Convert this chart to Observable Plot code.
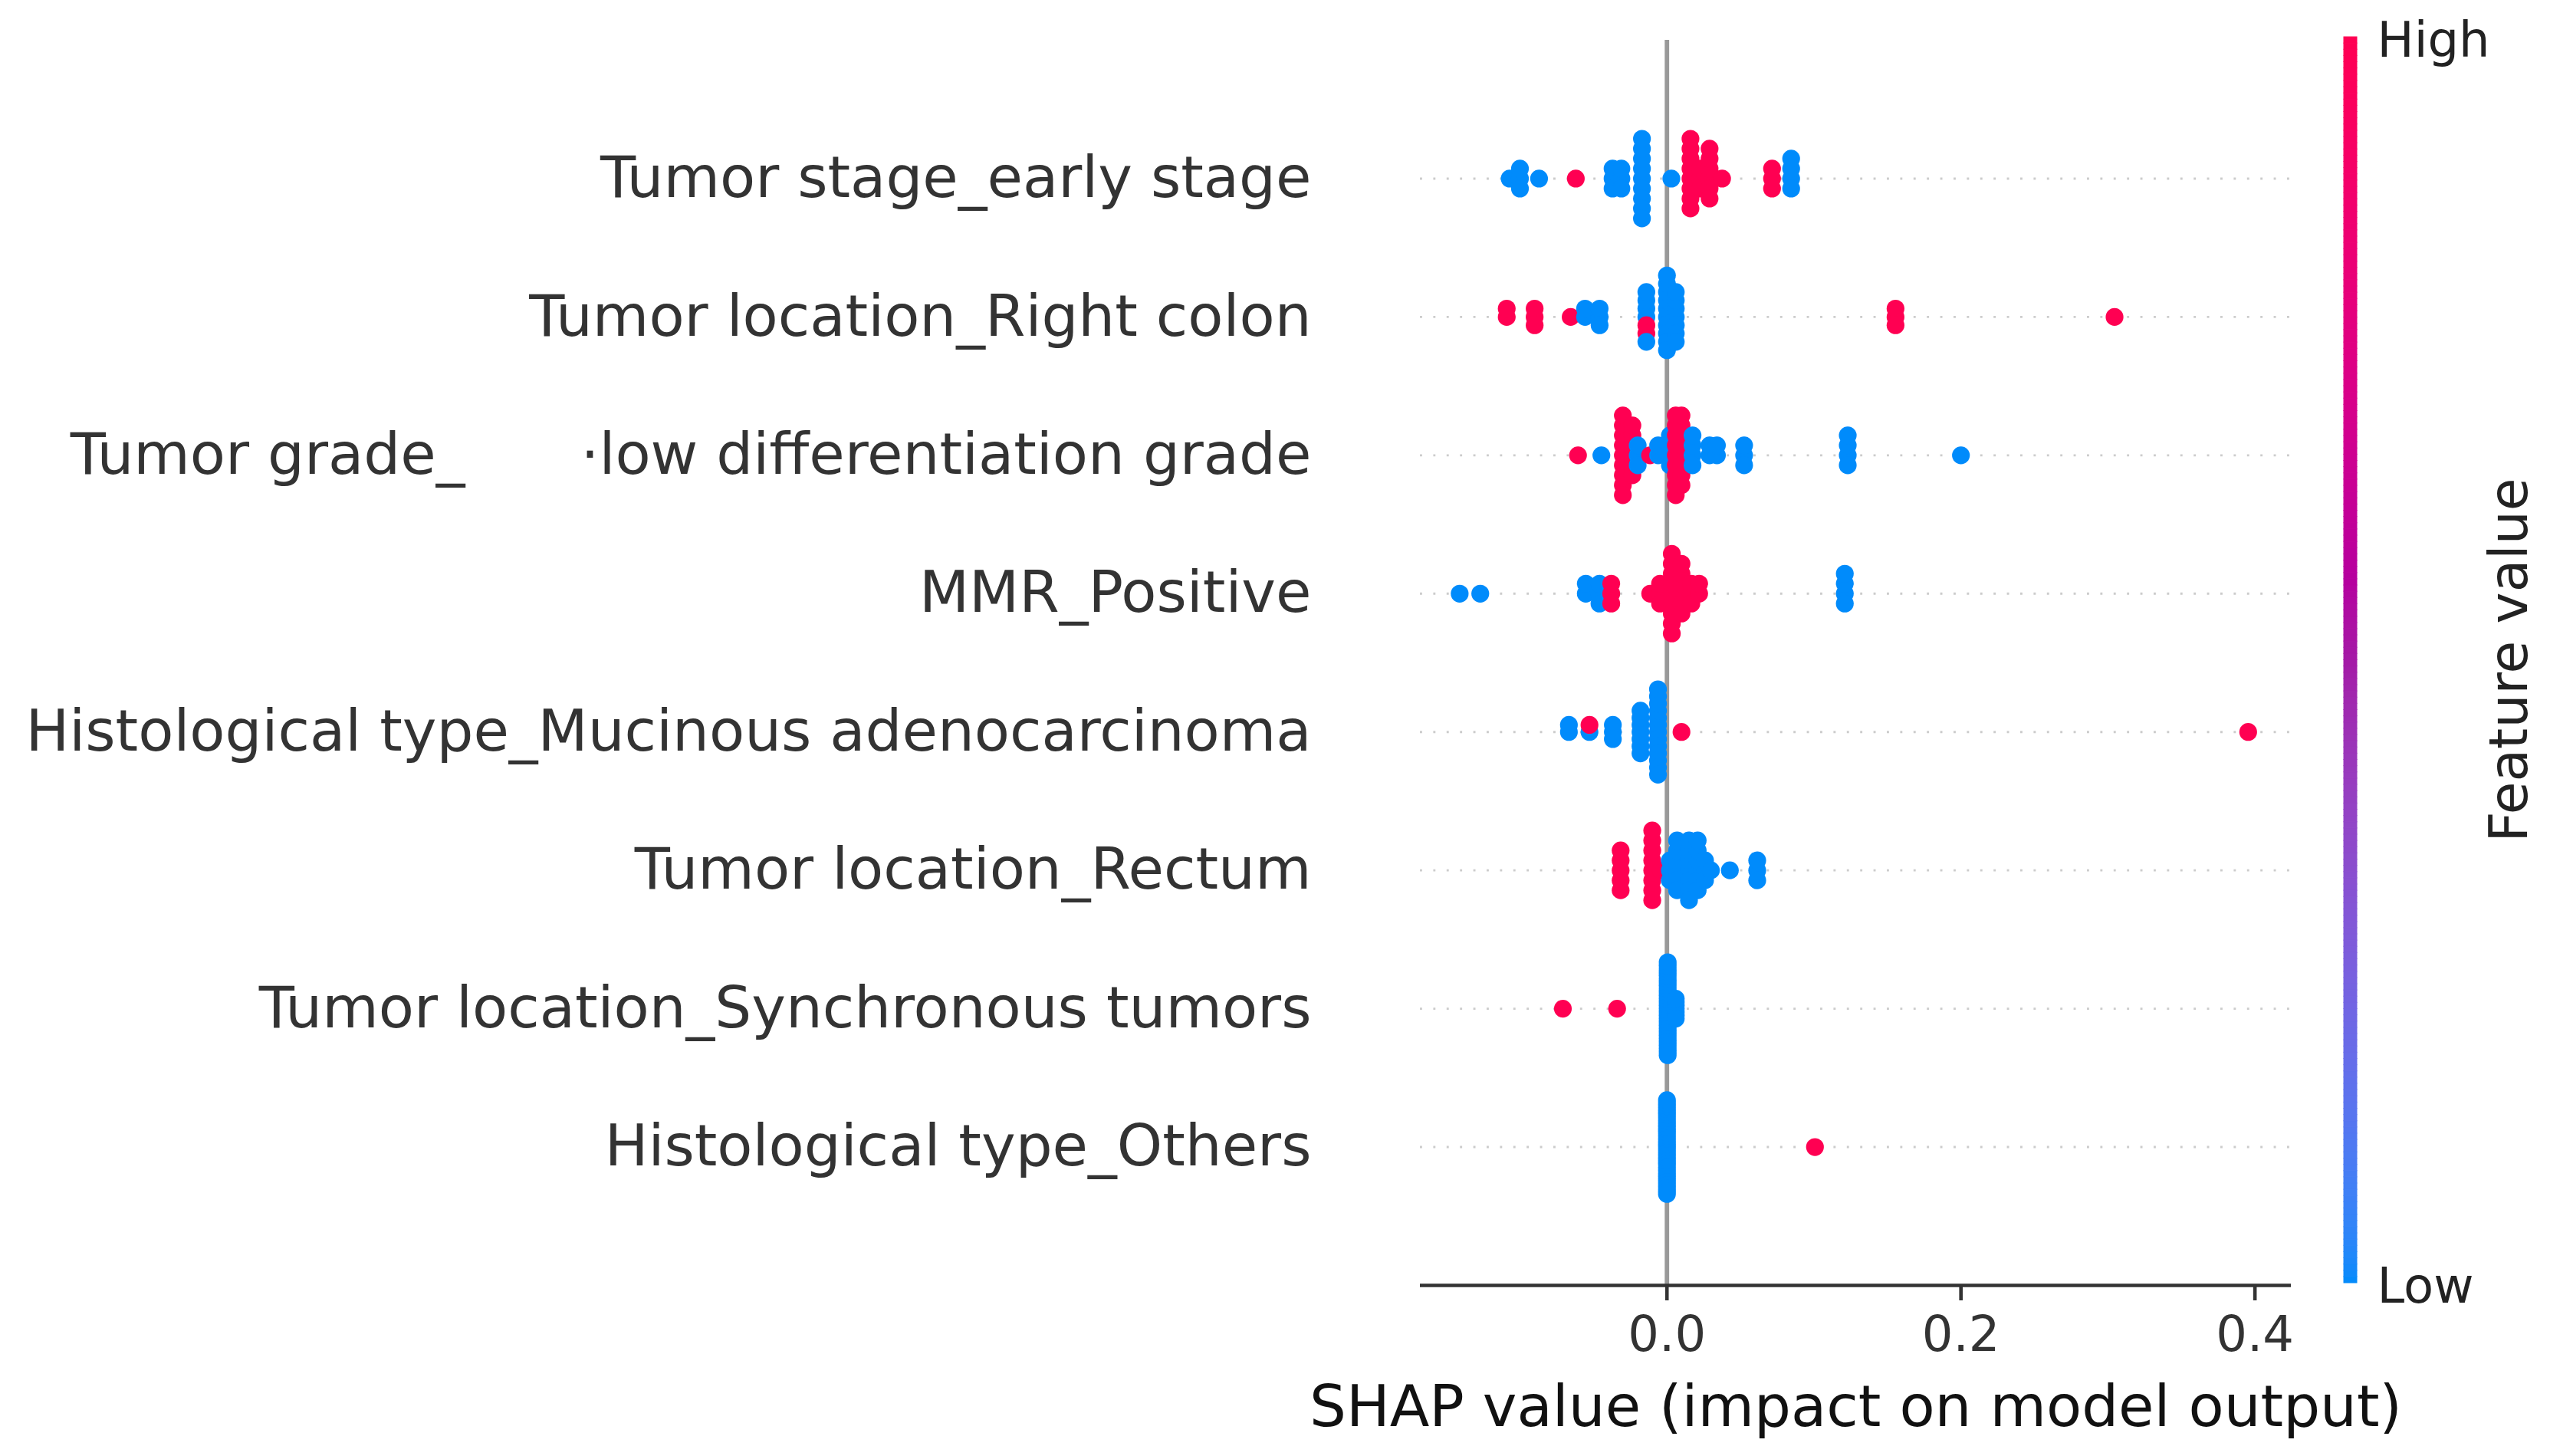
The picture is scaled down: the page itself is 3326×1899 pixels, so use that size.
<!DOCTYPE html>
<html>
<head>
<meta charset="utf-8">
<script src="https://cdn.jsdelivr.net/npm/d3@7"></script>
<script src="https://cdn.jsdelivr.net/npm/@observablehq/plot@0.6"></script>
<style>
  html, body { margin: 0; padding: 0; background: #ffffff; }
  #wrap { display: flex; align-items: flex-start; width: 3326px; height: 1899px; overflow: hidden; background: #ffffff; }
  #wrap svg { overflow: visible; }
  #wrap svg:first-child { position: relative; z-index: 2; }
</style>
</head>
<body>
<div id="wrap"></div>
<script>
// ---- feature names (top to bottom) ----
const features = [
  "Tumor stage_early stage",
  "Tumor location_Right colon",
  "Tumor grade_\u2003\u2003\u00b7low differentiation grade",
  "MMR_Positive",
  "Histological type_Mucinous adenocarcinoma",
  "Tumor location_Rectum",
  "Tumor location_Synchronous tumors",
  "Histological type_Others"
];

// ---- SHAP value clusters: [shap value, samples, feature value (1 = high, 0 = low)] ----
const tumorStageEarly = [
  [-0.107, 1, 0], [-0.100, 3, 0], [-0.087, 1, 0], [-0.062, 1, 1],
  [-0.037, 3, 0], [-0.031, 3, 0], [-0.017, 9, 0], [0.003, 1, 0],
  [0.016, 8, 1], [0.0225, 3, 1], [0.029, 6, 1], [0.0375, 1, 1],
  [0.0715, 3, 1], [0.0845, 4, 0]
];
const tumorLocationRightColon = [
  [-0.109, 2, 1], [-0.090, 3, 1], [-0.0655, 1, 1], [-0.0557, 2, 0], [-0.0458, 3, 0],
  [-0.014, 2, 0], [-0.014, 1, 1], [-0.014, 1, 0], [-0.014, 1, 1], [-0.014, 2, 0],
  [0.000, 10, 0], [0.006, 7, 0], [0.1555, 3, 1], [0.3045, 1, 1]
];
const tumorGradeLow = [
  [-0.0605, 1, 1], [-0.0446, 1, 0], [-0.030, 9, 1], [-0.0235, 6, 1],
  [-0.0199, 3, 0], [-0.0115, 1, 1], [-0.006, 2, 0], [0.002, 4, 0],
  [0.006, 9, 1], [0.0099, 8, 1], [0.0174, 4, 0], [0.029, 2, 0],
  [0.034, 2, 0], [0.0525, 3, 0], [0.123, 4, 0], [0.200, 1, 0]
];
const mmrPositive = [
  [-0.141, 1, 0], [-0.127, 1, 0], [-0.0552, 2, 0], [-0.0459, 3, 0],
  [-0.0379, 3, 1], [-0.0114, 1, 1], [-0.0047, 3, 1], [0.0033, 9, 1],
  [0.0099, 6, 1], [0.0166, 3, 1], [0.0219, 2, 1], [0.121, 4, 0]
];
const mucinous = [
  [-0.0667, 2, 0], [-0.0527, 1, 0], [-0.0527, 1, 1], [-0.0368, 3, 0],
  [-0.018, 7, 0], [-0.0061, 13, 0], [0.0099, 1, 1], [0.3954, 1, 1]
];
const rectum = [
  [-0.0315, 5, 1], [-0.010, 8, 1], [-0.004, 1, 1], [0.002, 3, 0],
  [0.0069, 6, 0], [0.015, 7, 0], [0.0209, 6, 0], [0.0259, 3, 0],
  [0.0299, 1, 0], [0.0428, 1, 0], [0.0614, 3, 0]
];
const synchronous = [
  [-0.0708, 1, 1], [-0.0339, 1, 1], [0.0005, 29, 0], [0.006, 7, 0]
];
const others = [
  [0.000, 33, 0], [0.1007, 1, 1]
];

const featureData = [tumorStageEarly, tumorLocationRightColon, tumorGradeLow, mmrPositive,
                     mucinous, rectum, synchronous, others];

const xTicks = [0, 0.2, 0.4];
const colorbarTicks = ["Low", "High"];
const xLabel = "SHAP value (impact on model output)";
const colorbarLabel = "Feature value";

// ---- SHAP "red_blue" colormap (LCh interpolation, lightness dipping in the middle) ----
const blueEnd = d3.hcl("#008bfb"), redEnd = d3.hcl("#ff0052");
function shapRedBlue(t) {
  t = Math.max(0, Math.min(1, t));
  const lMid = 40;
  const l = t < 0.5 ? blueEnd.l + (lMid - blueEnd.l) * (t / 0.5) : lMid + (redEnd.l - lMid) * ((t - 0.5) / 0.5);
  const c = blueEnd.c + (redEnd.c - blueEnd.c) * t;
  const h0 = blueEnd.h, h1 = redEnd.h < h0 ? redEnd.h + 360 : redEnd.h;
  const h = h0 + (h1 - h0) * t;
  return d3.hcl(h % 360, c, l).formatHex();
}

// ---- SHAP beeswarm layout (same binning / layering rule as shap.summary_plot) ----
function shapSwarm(vals, rowHeight = 0.4, nbins = 100) {
  const mn = d3.min(vals), mx = d3.max(vals);
  const quant = vals.map(v => Math.round(nbins * (v - mn) / (mx - mn + 1e-8)));
  const order = d3.range(vals.length).sort((a, b) => quant[a] - quant[b] || a - b);
  const ys = new Array(vals.length).fill(0);
  let layer = 0, last = -1;
  for (const i of order) {
    if (quant[i] !== last) layer = 0;
    ys[i] = Math.ceil(layer / 2) * ((layer % 2) * 2 - 1);
    layer++;
    last = quant[i];
  }
  const m = d3.max(ys, y => y + 1);
  return ys.map(y => y * 0.9 * rowHeight / m);
}

const points = [];
featureData.forEach((clusters, k) => {
  const pts = clusters.flatMap(([v, n, hi]) => Array.from({length: n}, () => ({v, hi})));
  const ys = shapSwarm(pts.map(p => p.v));
  const pos = features.length - 1 - k;
  pts.forEach((p, i) => points.push({feature: features[k], v: p.v, hi: p.hi, y: pos + ys[i]}));
});
const rowPositions = d3.range(features.length);

const font = "DejaVu Sans";

const main = Plot.plot({
  width: 3040,
  height: 1899,
  marginLeft: 1852,
  marginRight: 52,
  marginTop: 52,
  marginBottom: 223,
  style: {fontFamily: font, background: "transparent", overflow: "visible"},
  x: {domain: [-0.1678, 0.4247]},
  y: {domain: [-1, features.length]},
  color: {type: "linear", domain: [0, 1], interpolate: shapRedBlue},
  marks: [
    Plot.ruleY(rowPositions, {stroke: "#cccccc", strokeWidth: 2.9, strokeDasharray: "2.9 14.5"}),
    Plot.ruleX([0], {stroke: "#999999", strokeWidth: 5.8}),
    Plot.dot(points, {x: "v", y: "y", r: 11.6, fill: "hi", stroke: null}),
    Plot.ruleY([-1], {stroke: "#333333", strokeWidth: 4.6}),
    Plot.axisX({ticks: xTicks, tickFormat: d3.format(".1f"), tickSize: 20, tickPadding: 20,
                fontSize: 64, color: "#333333", strokeWidth: 4.6, label: null}),
    Plot.axisY({ticks: rowPositions, tickFormat: i => features[features.length - 1 - i],
                tickSize: 0, tickPadding: 142, fontSize: 75.5, color: "#333333", label: null}),
    Plot.text([xLabel], {frameAnchor: "bottom", lineAnchor: "middle", dy: 159, fontSize: 75.5, fill: "#111111"})
  ]
});

const steps = d3.range(200);
const cbar = Plot.plot({
  width: 286,
  height: 1899,
  marginLeft: 17,
  marginRight: 252,
  marginTop: 48,
  marginBottom: 226,
  style: {fontFamily: font, background: "transparent", overflow: "visible"},
  y: {domain: [0, 1]},
  color: {type: "linear", domain: [0, 1], interpolate: shapRedBlue},
  marks: [
    Plot.rect(steps, {y1: i => i / steps.length, y2: i => (i + 1) / steps.length,
                      fill: i => (i + 0.5) / steps.length, stroke: i => (i + 0.5) / steps.length, strokeWidth: 1}),
    Plot.axisY({anchor: "right", ticks: [0, 1], tickFormat: d => colorbarTicks[d], tickSize: 0, tickPadding: 26,
                fontSize: 64, color: "#222222", label: null, dy: 5}),
    Plot.text([colorbarLabel], {frameAnchor: "right", textAnchor: "middle", lineAnchor: "middle",
                                rotate: -90, dx: 199, fontSize: 69.6, fill: "#222222"})
  ]
});

const wrap = document.getElementById("wrap");
wrap.appendChild(main);
wrap.appendChild(cbar);
</script>
</body>
</html>
